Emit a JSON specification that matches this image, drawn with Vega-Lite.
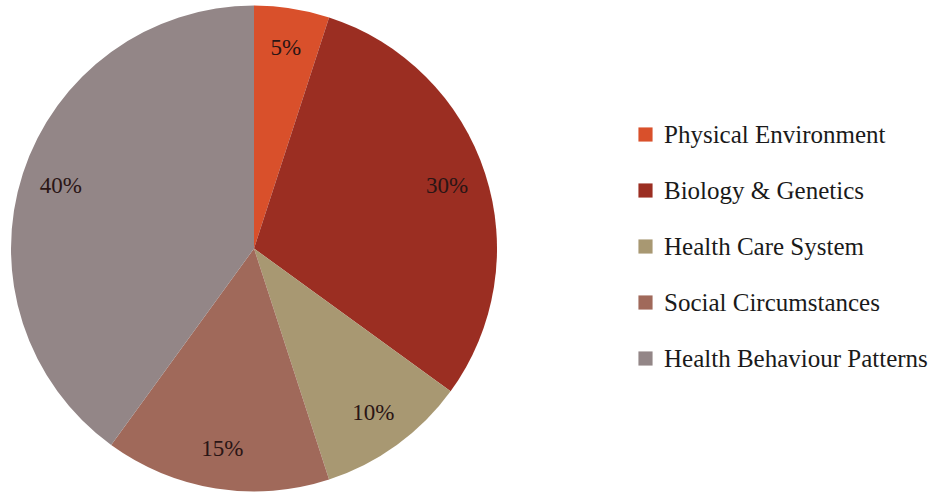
{
  "$schema": "https://vega.github.io/schema/vega-lite/v6.json",
  "width": 508,
  "height": 497,
  "padding": {"left": 0, "top": 0, "right": 434, "bottom": 0},
  "autosize": {"type": "none"},
  "background": "white",
  "view": {"stroke": null},
  "data": {"values": [
    {"factor": "Physical Environment", "value": 5, "label": "5%", "idx": 1},
    {"factor": "Biology & Genetics", "value": 30, "label": "30%", "idx": 2},
    {"factor": "Health Care System", "value": 10, "label": "10%", "idx": 3},
    {"factor": "Social Circumstances", "value": 15, "label": "15%", "idx": 4},
    {"factor": "Health Behaviour Patterns", "value": 40, "label": "40%", "idx": 5}
  ]},
  "encoding": {
    "theta": {"field": "value", "type": "quantitative", "stack": true},
    "order": {"field": "idx", "type": "quantitative"},
    "color": {
      "field": "factor", "type": "nominal",
      "scale": {
        "domain": ["Physical Environment", "Biology & Genetics", "Health Care System", "Social Circumstances", "Health Behaviour Patterns"],
        "range": ["#D9502B", "#9B2E22", "#A89872", "#A0695A", "#938687"]
      },
      "legend": {
        "title": null,
        "orient": "none",
        "legendX": 633,
        "legendY": 122,
        "symbolType": "square",
        "symbolSize": 200,
        "symbolStrokeWidth": 0,
        "labelFont": "Liberation Serif",
        "labelFontSize": 25,
        "labelColor": "#1a1a1a",
        "labelOffset": 6,
        "rowPadding": 30,
        "labelLimit": 400
      }
    }
  },
  "layer": [
    {"mark": {"type": "arc", "outerRadius": 243}},
    {"mark": {"type": "text", "radius": 203, "font": "Liberation Serif", "fontSize": 23},
     "encoding": {"text": {"field": "label"}, "color": {"value": "#2a1515"}}}
  ]
}
